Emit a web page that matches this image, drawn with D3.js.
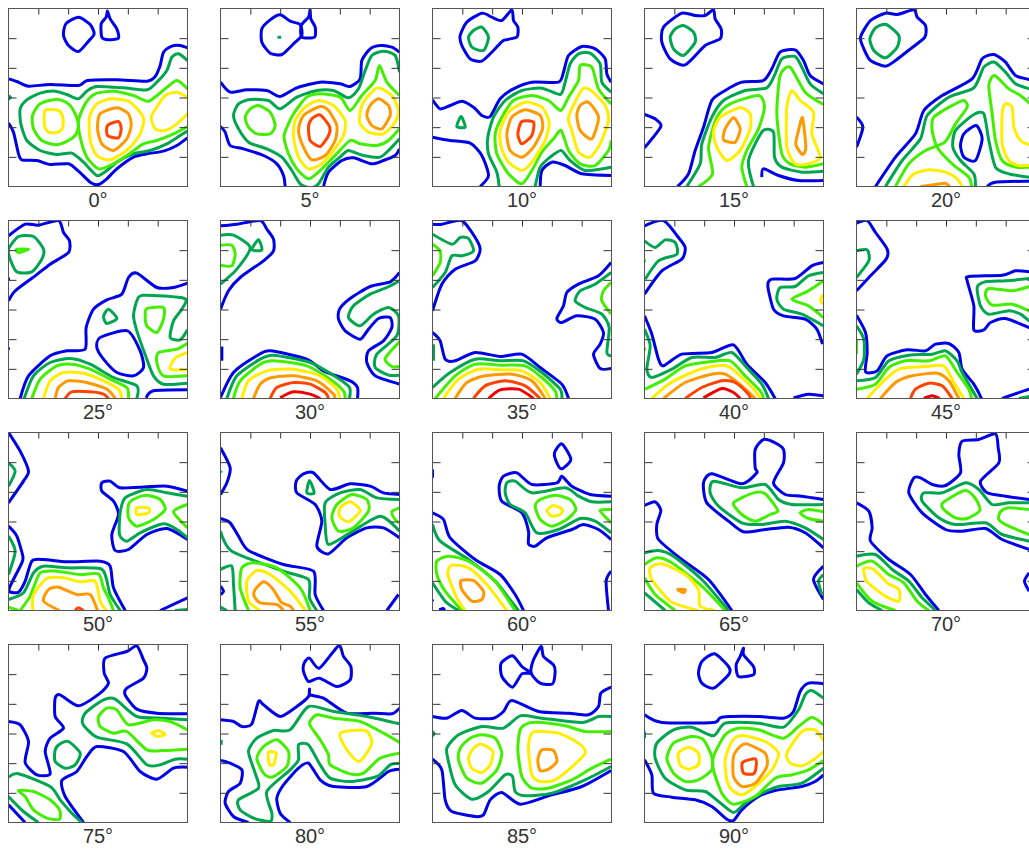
<!DOCTYPE html>
<html><head><meta charset="utf-8">
<script src="https://cdnjs.cloudflare.com/ajax/libs/d3/7.8.5/d3.min.js"></script>
<style>html,body{margin:0;padding:0;background:#fff;overflow:hidden}svg{display:block}</style>
</head><body><div id="chart"></div>
<script>
const angles=[0,5,10,15,20,25,30,35,40,45,50,55,60,65,70,75,80,85,90];
const levelColors=["#0000e6","#00a550","#44ee00","#ffee00","#ff9900","#ff4400","#ee0000"];
const tickSteps=[1,2,3,4,5];
// each contour: [level, closed, [x,y,x,y,...]] in map units (0..537 across, 0..534 down)
const map0=[
[0,1,[210,26,245,48,257,76,240,98,210,129,180,111,165,81,172,46]],
[0,1,[297,8,305,31,325,61,330,89,300,94,280,86,278,46,293,26]],
[0,0,[0,211,25,219,60,233,125,228,210,231,237,216,325,214,415,218,440,204,455,171,465,131,490,113,515,111,537,118]],
[0,0,[0,344,15,371,30,436,40,454,85,456,125,468,180,466,210,488,245,521,270,528,295,511,325,481,375,446,415,436,465,428,505,411,537,388]],
[1,0,[537,156,510,136,490,146,475,186,445,221,415,244,345,238,265,234,237,246,210,271,175,258,140,248,95,254,55,274,35,301,37,346,55,396,95,426,145,438,190,434,225,461,265,501,295,486,325,461,375,436,425,426,475,406,515,381,537,368]],
[1,0,[0,262,6,267,0,272]],
[2,1,[145,272,180,286,200,316,210,351,200,381,170,401,140,409,100,396,75,361,72,321,95,286]],
[2,0,[537,241,505,216,470,241,420,278,375,261,315,248,260,256,230,286,210,336,215,386,235,446,270,481,305,471,355,441,405,406,445,396,495,376,537,354]],
[3,1,[110,306,150,306,163,326,163,356,150,371,120,371,108,351]],
[3,1,[310,271,365,281,405,328,395,376,360,421,305,454,265,441,245,396,243,326,265,286]],
[3,0,[537,266,505,251,470,261,445,296,428,326,440,361,470,366,505,346,537,316]],
[4,1,[325,298,360,316,368,351,355,391,315,426,280,406,267,361,275,316]],
[5,1,[297,351,330,339,338,361,330,388,297,381]]];
const map5=[
[0,1,[179,19,209,38,239,48,244,81,219,106,184,138,149,134,124,101,124,61,149,34]],
[0,1,[269,4,271,31,284,56,282,86,244,86,242,51,264,26]],
[1,0,[171,86,182,86]],
[0,0,[0,221,29,251,79,244,139,246,179,264,229,238,299,221,359,226,389,234,419,211,424,156,449,121,479,111,514,116,537,131]],
[0,0,[0,354,14,371,29,411,69,421,129,441,169,466,189,501,194,534]],
[0,0,[309,534,324,491,364,456,399,448,454,466,489,456,524,441,537,421]],
[1,0,[537,191,524,141,489,128,454,141,434,186,414,241,384,268,339,246,289,246,229,266,179,301,144,276,89,273,54,286,39,321,54,361,84,401,139,421,184,446,214,486,239,526,270,538,294,526,324,476,364,441,384,426,429,441,479,446,509,421,537,391]],
[2,1,[114,291,149,311,164,351,149,376,109,376,84,356,74,326,89,301]],
[2,0,[537,261,499,221,477,171,464,216,424,261,389,306,359,266,299,256,259,266,219,316,191,381,204,436,229,481,264,511,299,486,339,446,389,396,419,406,469,411,504,396,537,361]],
[3,1,[294,276,339,291,374,336,369,381,339,426,304,466,264,481,234,446,219,386,224,336,254,296]],
[3,1,[474,238,514,261,534,306,524,341,489,376,444,371,417,341,424,291,449,256]],
[4,1,[299,294,324,306,349,351,344,396,314,441,274,454,249,416,234,366,249,321]],
[4,1,[474,271,504,291,509,321,484,361,454,351,439,321,449,291]],
[5,1,[299,319,327,354,324,381,299,414,269,396,264,356,274,331]]];
const map10=[
[0,1,[238,4,243,36,256,56,253,86,213,96,183,126,148,158,113,151,88,111,83,81,103,41,148,14,178,26,208,36]],
[1,1,[148,56,168,86,153,126,118,116,108,86,123,66]],
[0,0,[0,274,23,301,53,291,88,278,123,296,148,321,173,324,203,271,243,241,298,221,378,221,393,191,408,141,448,114,488,121,518,151,523,196,536,221]],
[0,0,[0,386,53,396,113,404,148,441,168,501,143,534]],
[0,0,[323,534,328,486,358,461,398,471,448,496,536,501]],
[1,1,[86,324,98,356,73,354]],
[1,0,[536,251,508,221,503,166,473,134,438,136,413,166,398,221,383,258,328,239,268,246,218,276,183,326,166,386,168,436,193,491,200,534]],
[1,0,[308,534,323,476,353,446,386,426,413,456,458,486,536,476]],
[2,0,[536,286,498,241,478,176,443,171,438,216,408,266,385,306,348,276,298,261,243,276,208,326,188,376,193,436,228,496,268,526,298,486,328,431,363,391,386,366,408,426,443,466,488,471,528,426,536,396]],
[3,1,[278,281,328,296,350,341,338,396,298,461,268,486,228,461,206,416,203,366,228,311]],
[3,1,[448,244,473,244,518,291,528,336,503,406,473,446,438,431,418,366,408,326]],
[4,1,[278,304,323,321,330,361,303,416,268,446,233,426,223,376,238,326]],
[4,1,[468,281,498,326,478,391,443,366,433,321,443,291]],
[5,1,[268,339,303,341,298,381,268,406,256,376]]];
const map15=[
[0,1,[207,4,212,31,230,61,227,91,182,111,122,169,77,151,52,101,57,56,112,14,152,21,182,21]],
[1,1,[117,51,147,71,152,101,117,141,87,121,77,86,92,61]],
[0,0,[0,318,32,331,49,354,0,418]],
[0,0,[99,534,132,496,152,426,177,356,202,276,242,246,292,221,357,216,382,181,407,131,452,124,477,156,497,201,537,226]],
[1,0,[127,534,167,466,172,406,202,326,237,276,302,246,367,238,392,196,412,151,452,144,472,176,497,226,537,256]],
[2,0,[162,534,204,496,192,416,217,326,257,286,342,261,360,296,342,361,307,426,292,476,307,534]],
[1,0,[327,534,312,456,354,368,387,371,390,446,412,476,472,491,537,488]],
[2,0,[537,288,482,251,437,176,407,201,397,316,412,436,437,466,482,476,537,466]],
[0,0,[352,506,357,481,402,501,462,516,537,516]],
[3,1,[287,298,317,316,317,361,287,426,247,456,217,416,207,371,227,326]],
[3,1,[442,246,467,276,507,311,502,376,527,446,492,466,452,466,427,416,427,296]],
[4,1,[267,328,287,361,272,401,237,394,242,361]],
[4,1,[474,328,484,416,474,438,454,408,462,366]]];
const map20=[
[0,1,[172,4,182,26,207,51,205,86,162,121,117,156,87,173,42,156,22,121,12,86,42,36,87,14,122,18]],
[1,1,[89,48,127,81,122,116,87,148,52,126,40,91,57,58]],
[0,0,[0,326,19,356,0,416]],
[0,0,[57,534,117,446,177,376,202,306,257,261,347,211,377,151,412,138,447,161,477,201,518,213,537,218]],
[1,0,[87,534,137,456,192,391,212,321,277,266,352,238,382,176,414,161,447,191,477,226,518,241,537,246]],
[2,0,[117,534,157,466,207,426,265,401,297,346,332,296,322,276,287,291,232,326,227,366,242,416,287,466,337,506,345,534]],
[1,0,[357,534,352,496,312,456,289,416,297,366,352,318,382,316,397,396,417,476,457,496,518,506,537,506]],
[0,1,[359,351,377,391,357,456,322,446,312,411,322,376]],
[0,0,[392,534,417,521,518,518,537,518]],
[2,0,[537,300,492,261,457,241,414,201,397,231,407,316,417,396,437,456,477,476,518,476,537,476]],
[3,0,[537,416,492,396,472,356,467,296,447,286,437,316,437,406,457,456,487,471,518,471,537,471]],
[3,0,[142,534,172,496,217,484,267,491,302,511,317,534]],
[4,0,[192,534,237,528,267,524,279,534]]];
const map25=[
[0,0,[0,46,50,11,90,14,150,0,165,36,183,61,180,96,125,131,80,166,20,211,0,241]],
[1,1,[0,86,30,48,75,48,105,86,100,116,70,154,25,154,5,116]],
[2,1,[25,86,60,86,30,96]],
[0,0,[0,171,0,181]],
[0,0,[0,381,0,388]],
[0,0,[35,534,60,466,125,406,175,391,230,386,233,321,255,266,295,238,340,221,360,171,385,158,445,201,495,201,537,188]],
[0,1,[357,331,395,391,405,441,375,466,325,456,285,416,265,381,275,351]],
[1,1,[300,266,325,294,295,309,285,288]],
[0,0,[413,532,435,511,537,508]],
[1,0,[537,488,465,491,435,466,415,416,385,331,375,286,385,241,405,224,528,234,520,266,495,301,485,351,515,358,537,328]],
[2,1,[415,264,465,261,465,296,445,336,415,316,410,286]],
[2,0,[537,368,505,386,450,396,445,426,465,466,537,466]],
[3,0,[537,396,500,413,485,446,537,448]],
[1,0,[47,534,75,466,125,426,185,414,245,431,315,471,385,496,385,534]],
[2,0,[70,534,95,476,145,436,190,431,245,446,305,476,355,501,360,534]],
[3,0,[105,534,125,481,165,456,225,458,285,481,330,506,340,534]],
[4,0,[140,534,150,501,180,481,235,486,295,506,320,534]],
[5,0,[170,534,190,514,245,514,285,521,300,534]]];
const map30=[
[0,0,[0,16,49,11,119,0,139,26,159,56,159,91,129,121,59,171,24,211,0,266]],
[1,0,[0,44,39,44,89,81,49,146,0,191]],
[1,1,[114,58,124,88,94,88]],
[2,0,[0,74,34,74,44,101,34,136,0,134]],
[0,0,[4,378,4,421]],
[0,0,[537,156,509,184,449,198,389,234,357,266,354,296,374,331,419,356,444,326,474,294,509,291,514,321,489,361,444,391,439,426,464,466,537,491]],
[1,0,[537,181,499,201,449,221,399,256,384,291,419,316,459,281,504,261,534,286,529,346,469,401,464,441,504,464,537,464]],
[2,0,[537,364,494,414,514,438,537,438]],
[0,0,[0,531,39,456,109,406,149,391,259,416,309,451,389,481,411,501,411,534]],
[1,0,[19,534,49,466,119,416,159,404,269,426,349,471,387,501,387,534]],
[2,0,[39,534,59,481,119,431,159,421,259,436,329,476,369,511,374,534]],
[3,0,[64,534,84,481,139,451,219,446,299,466,349,506,357,534]],
[4,0,[99,534,119,491,154,471,219,466,289,481,339,521,342,534]],
[5,0,[149,534,169,501,219,486,269,491,314,516,324,534]],
[6,0,[179,532,219,514,269,521,299,534]]];
const map35=[
[0,0,[0,11,28,11,88,0,128,51,143,86,128,121,68,146,28,191,0,271]],
[1,0,[0,41,58,71,83,51,108,54,123,91,88,106,58,106,38,156,0,201]],
[2,0,[0,71,23,91,23,126,0,166]],
[0,0,[0,336,23,361,38,416,68,421,128,396,203,408,268,401,323,441,388,491,408,534]],
[1,0,[3,371,3,421]],
[1,0,[0,501,53,456,128,416,203,421,273,421,328,456,383,506,388,534]],
[2,0,[8,534,68,466,128,431,208,434,278,436,328,471,368,511,373,534]],
[3,0,[33,534,78,476,138,446,208,448,268,451,323,486,353,534]],
[4,0,[68,534,103,486,158,466,238,461,298,481,338,534]],
[5,0,[123,534,158,496,218,481,278,496,323,534]],
[6,0,[168,534,203,508,258,506,303,534]],
[0,0,[536,126,498,166,438,191,403,216,393,256,373,294,388,306,433,286,488,296,513,336,503,371,483,401,503,444,536,444]],
[1,0,[536,156,488,191,443,211,428,241,458,261,508,281,530,321,523,396,536,406]],
[2,0,[536,186,513,211,508,241,536,281]]];
const map40=[
[0,0,[0,16,57,0,102,51,122,81,112,116,52,151,0,221]],
[1,0,[0,61,32,81,62,58,92,66,97,101,42,121,2,176]],
[2,0,[0,116,0,126]],
[2,0,[0,381,0,391]],
[0,0,[0,286,22,341,42,416,57,436,112,401,202,396,267,373,307,431,362,486,392,534]],
[1,0,[0,326,17,376,7,446,22,471,82,446,142,411,212,411,262,396,307,441,352,491,372,534]],
[2,0,[2,506,62,476,122,436,192,424,257,421,302,466,347,511,357,534]],
[3,0,[22,534,72,491,142,456,202,438,252,438,292,471,332,511,347,534]],
[4,0,[57,534,122,486,202,461,242,461,292,496,332,534]],
[5,0,[122,534,172,501,232,481,272,486,312,521,317,534]],
[6,0,[177,532,232,504,267,516,287,534]],
[0,0,[537,126,502,136,452,174,382,176,370,196,387,266,417,286,482,296,517,326,534,371]],
[0,0,[447,532,492,521,537,526]],
[1,0,[537,156,492,166,452,198,407,201,397,236,417,266,472,281,537,316]],
[2,0,[537,181,492,211,442,236,492,256,537,291]],
[3,0,[535,221,528,238,535,251]]];
const map45=[
[0,0,[0,8,32,0,57,36,92,86,89,116,42,166,0,211]],
[1,0,[0,91,32,88,37,121,0,171]],
[0,0,[0,284,27,336,32,396,27,454,62,451,92,406,152,388,207,391,237,371,277,369,307,396,317,446,352,491,375,534]],
[1,0,[0,316,22,356,22,416,0,461]],
[2,0,[0,356,0,401]],
[1,0,[0,481,57,471,97,421,157,404,227,401,267,391,302,421,317,456,362,534]],
[2,0,[0,506,57,491,97,441,147,421,217,421,267,406,302,456,337,506,345,534]],
[3,0,[32,534,77,486,127,446,207,438,262,436,292,486,322,534]],
[4,0,[72,534,117,486,167,466,242,458,277,481,307,534]],
[5,0,[162,534,177,506,217,488,257,496,287,534]],
[6,0,[202,534,227,526,249,534]],
[0,0,[518,154,477,151,437,164,337,168,332,181,352,256,352,328,382,328,402,306,447,294,518,321,537,330]],
[1,0,[518,174,447,181,387,184,362,201,372,256,397,281,457,271,492,281,518,301,537,312]],
[2,0,[518,198,467,211,397,204,387,226,407,254,467,251,518,271,537,280]],
[0,0,[437,534,518,506,537,504]],
[1,0,[487,534,518,528,537,528]]];
const map50=[
[0,0,[0,0,35,56,60,116,45,146,0,211]],
[1,0,[0,91,20,116,0,161]],
[0,0,[0,281,25,311,43,371,40,391,5,461,3,478,30,479,50,446,70,386,105,381,175,388,275,386,305,401,315,466,350,534]],
[1,0,[0,311,20,356,0,426]],
[1,0,[0,501,45,481,75,421,105,401,175,406,275,408,293,436,305,486,335,534]],
[2,0,[0,524,30,534]],
[2,0,[35,534,65,491,95,421,145,416,215,426,270,424,285,466,300,496,315,534]],
[3,0,[73,534,75,486,115,438,165,436,215,448,260,446,275,506,293,534]],
[4,0,[153,534,105,506,120,471,150,464,205,486,245,486,267,534]],
[5,0,[200,534,210,526,225,534]],
[0,0,[537,176,475,161,395,164,335,166,305,146,280,151,280,176,315,206,330,246,310,306,320,354,360,351,415,306,475,288,537,321]],
[0,0,[455,534,537,496]],
[1,0,[500,534,537,531]],
[1,0,[537,191,475,181,415,171,350,196,335,241,333,306,355,326,395,301,465,274,505,291,537,316]],
[2,1,[415,188,455,201,470,231,435,261,385,281,360,256,360,216,380,198]],
[3,1,[385,226,420,226,420,241,385,246]],
[2,0,[537,216,495,238,537,286]]];
const map55=[
[0,0,[0,46,29,106,19,151,0,186]],
[1,0,[0,116,3,121]],
[0,0,[0,258,29,271,54,311,84,354,189,396,279,416,284,486,309,534]],
[1,0,[0,296,34,356,189,416,264,441,267,496,289,534]],
[1,0,[0,411,34,401,39,456,44,534]],
[2,0,[84,534,59,466,64,406,99,391,169,406,239,466,269,534]],
[3,0,[119,534,84,506,79,446,109,414,149,426,209,476,254,534]],
[4,0,[219,534,209,521,184,511,174,496,154,466,129,448,104,471,101,491,119,511,169,516,189,534]],
[0,0,[0,461,9,476,0,486]],
[1,0,[0,524,19,534]],
[0,0,[537,186,489,181,449,161,389,154,329,171,279,121,249,124,227,146,229,181,284,216,304,266,289,341,324,364,379,316,439,286,489,286,537,316]],
[1,1,[267,144,281,181,259,181]],
[1,0,[537,201,469,196,419,171,359,181,314,211,314,276,324,336,389,301,479,251,537,296]],
[2,1,[394,186,439,201,444,236,399,286,354,296,334,256,349,216]],
[3,1,[389,208,419,234,384,268,357,251,359,226]],
[2,0,[537,226,514,238,524,261,537,271]],
[0,0,[499,534,534,486]]];
const map60=[
[0,0,[0,111,0,136]],
[0,1,[388,34,415,81,388,109,373,91,366,61]],
[0,0,[536,191,473,186,418,161,388,131,373,151,298,156,253,121,213,131,200,161,208,206,268,241,288,296,288,334,308,341,343,316,418,291,453,276,498,291,536,321]],
[1,0,[536,208,478,208,438,191,398,166,298,181,248,146,223,151,218,181,233,216,278,241,313,301,378,291,443,258,488,266,536,301]],
[2,1,[368,188,413,201,430,231,403,261,358,281,323,261,308,221,323,201]],
[3,1,[363,219,390,231,383,246,358,251,343,234]],
[2,0,[536,231,503,234,536,271]],
[0,0,[0,241,33,261,53,316,128,381,203,426,248,486,273,534]],
[1,0,[0,276,23,326,108,381,188,446,228,496,258,534]],
[2,0,[248,534,183,441,108,386,48,371,13,386,13,426,38,476,88,534]],
[1,0,[0,451,38,506,78,534]],
[3,0,[223,534,163,456,108,406,58,398,46,426,73,496,98,534]],
[4,1,[86,444,123,444,153,476,148,501,118,506,88,471]],
[0,0,[20,532,33,528,36,534]],
[0,0,[0,501,0,506]],
[0,0,[536,416,521,446,528,534]]];
const map65=[
[0,0,[0,219,32,208,49,234,37,276,42,321,112,381,192,441,262,534]],
[1,0,[0,361,42,354,87,371,172,441,252,534]],
[2,0,[0,396,37,376,82,391,172,461,242,534]],
[3,0,[212,534,167,521,162,471,122,426,52,394,17,406,22,441,77,506,132,526,162,534]],
[2,0,[0,436,32,486,92,534]],
[1,0,[0,481,62,534]],
[4,1,[99,471,122,471,117,481]],
[0,0,[537,201,472,191,422,186,387,151,417,91,417,51,392,31,357,21,332,51,332,106,337,121,292,154,202,124,177,151,187,211,252,266,297,298,362,291,432,284,482,301,537,346]],
[1,0,[537,216,442,216,402,201,362,156,292,166,207,146,197,181,222,221,292,271,352,276,422,266,482,286,537,321]],
[2,1,[327,181,362,184,400,234,377,246,332,266,292,246,267,211]],
[2,0,[537,238,492,231,467,241,492,258,537,266]],
[0,0,[537,401,507,441,537,501]],
[1,0,[537,426,522,446,532,486]]];
const map70=[
[0,0,[0,211,37,236,47,286,42,326,97,381,162,426,207,486,247,534]],
[1,0,[0,371,57,366,107,411,157,446,197,496,237,534]],
[2,0,[0,401,47,386,97,426,142,451,182,506,217,534]],
[3,1,[22,408,52,411,92,451,127,471,127,506,87,491,32,448]],
[2,0,[0,451,47,506,117,534]],
[1,0,[0,471,37,511,77,534]],
[0,0,[518,201,447,191,392,181,372,146,427,91,425,46,417,4,367,21,317,26,307,66,312,121,267,159,227,156,192,136,172,136,157,181,197,241,267,291,317,296,387,288,437,321,518,351,537,356]],
[1,0,[518,211,457,211,407,216,367,171,327,151,257,181,202,181,197,206,247,256,297,276,387,271,437,306,518,326,537,332]],
[2,1,[325,174,357,198,370,234,332,258,297,256,262,231,259,211]],
[2,0,[518,231,457,226,432,238,427,261,457,281,518,306,537,312]],
[0,0,[518,421,504,446,518,476]]];
const map75=[
[0,0,[0,231,35,241,60,291,50,354,85,391,125,388,110,321,125,281,165,251,140,216,140,161,155,151,210,184,275,146,300,116,287,86,290,41,355,21,385,4,405,46,415,71,405,101,355,131,350,151,385,194,445,206,537,208]],
[0,0,[537,368,495,371,445,404,395,381,345,321,265,306,235,336,205,381,160,408,170,456,225,534]],
[1,1,[180,291,215,326,200,361,170,371,140,351,140,316,155,298]],
[1,0,[537,226,465,221,385,216,320,164,285,166,230,206,223,238,265,278,355,298,415,361,455,361,500,344,537,344]],
[2,0,[537,256,485,231,435,226,360,241,325,196,295,191,270,216,275,246,315,266,355,261,415,316,465,318,537,314]],
[3,1,[430,266,450,259,470,269,450,276]],
[1,0,[0,398,30,388,125,426,155,466,190,506,220,534]],
[2,1,[30,438,75,441,125,466,153,496,153,524,115,521,75,496,50,456]],
[1,0,[0,456,45,501,90,534]],
[0,0,[0,481,50,534]]];
const map80=[
[0,0,[0,226,39,231,64,246,94,238,114,171,129,181,179,216,229,186,264,156,267,134,269,151,309,161,379,206,459,206,514,208,537,191]],
[0,1,[267,41,297,71,354,4,369,36,391,66,389,106,349,126,297,101,264,111,249,81,251,56]],
[1,0,[2,286,2,301]],
[0,0,[0,348,24,354,64,376,59,416,24,441,14,476,39,516,84,534]],
[0,0,[537,374,504,381,439,426,339,426,299,406,264,356,234,371,189,421,169,461,179,506,209,534]],
[1,0,[537,238,439,216,339,201,264,186,209,256,159,258,109,281,84,321,104,386,114,431,54,466,59,496,99,521,149,531,154,506,139,441,209,376,234,346,234,301,264,301,299,361,329,401,389,411,469,396,509,361,537,356]],
[2,1,[169,286,204,321,199,366,154,398,129,386,109,341,129,306]],
[3,1,[144,323,167,326,159,361,146,358]],
[2,0,[537,294,489,266,419,231,339,221,289,211,267,238,299,286,324,331,329,361,389,388,429,386,479,341,537,326]],
[3,1,[359,266,434,258,454,296,417,351,379,316]]];
const map85=[
[0,0,[0,216,43,221,88,198,128,221,183,221,213,201,238,168,318,201,408,206,468,211,498,186,505,146,536,128]],
[0,1,[240,34,268,66,296,86,268,88,240,128,208,96,206,56]],
[0,1,[326,6,333,36,363,61,368,81,360,118,323,116,296,86,303,46]],
[1,0,[0,261,5,268,0,274]],
[0,0,[0,344,28,376,38,466,58,501,128,516,153,511,173,466,208,444,263,479,348,454,448,426,536,378]],
[1,0,[536,216,498,216,448,234,328,221,263,214,213,251,148,246,78,271,43,311,48,351,68,421,118,464,168,441,218,391,240,396,248,441,278,454,358,446,458,406,536,366]],
[2,1,[148,271,188,281,208,326,193,376,148,416,103,401,78,346,83,311,113,281]],
[3,1,[148,299,181,321,173,361,148,384,118,371,108,341,123,311]],
[2,0,[536,261,458,261,398,244,328,234,288,236,263,256,256,316,268,396,298,431,348,431,418,406,478,371,536,344]],
[3,1,[308,261,378,266,438,296,458,326,408,376,363,408,323,411,298,391,288,316,293,276]],
[4,1,[328,316,363,318,373,351,348,374,323,378,316,346]]];
const map90=[
[0,1,[210,28,252,66,254,88,207,131,172,116,162,86,172,51]],
[0,1,[297,11,297,31,327,66,327,91,282,96,275,61,287,36]],
[0,0,[0,211,52,234,207,234,232,218,342,216,417,221,447,201,467,141,492,116,537,118]],
[1,0,[0,261,0,281]],
[0,0,[0,346,22,391,27,446,82,458,152,466,202,486,247,524,267,528,292,496,342,456,392,438,472,426,512,411,537,391]],
[1,0,[537,161,502,138,482,151,462,196,417,248,342,236,242,236,207,274,142,248,87,256,37,296,32,341,62,401,122,436,182,441,222,471,267,504,302,476,352,446,402,426,472,416,537,371]],
[2,1,[142,276,177,286,202,336,202,376,162,406,122,411,87,386,67,341,87,296]],
[3,1,[132,308,162,326,162,361,132,374,107,361,102,326]],
[2,0,[537,241,502,218,462,246,417,281,342,256,282,251,242,271,207,336,207,376,232,446,267,479,332,456,392,401,442,391,492,376,537,348]],
[3,1,[292,273,362,291,402,326,382,376,332,426,292,451,262,436,247,406,242,346,262,291]],
[3,0,[537,288,512,256,472,261,427,326,437,356,472,364,507,346,537,321]],
[4,1,[307,298,362,326,367,366,332,416,292,426,267,396,267,336,287,306]],
[5,1,[332,343,335,366,327,388,297,386,294,354]]];
const maps=[map0,map5,map10,map15,map20,map25,map30,map35,map40,map45,map50,map55,map60,map65,map70,map75,map80,map85,map90];

const W=1029,H=849,pw=179,ph=178;
const colX=[8.5,220.5,432.5,644.5,856.5],rowY=[8.5,220.5,432.5,644.5];
const svg=d3.select("#chart").append("svg").attr("width",W).attr("height",H).style("background","#fff");
const x=d3.scaleLinear().domain([0,537]).range([0,pw]);
const y=d3.scaleLinear().domain([0,534]).range([0,ph]);
const xT=tickSteps.map(d=>d*537/6),yT=tickSteps.map(d=>d*534/6);
const pairs=a=>d3.range(0,a.length,2).map(i=>[a[i],a[i+1]]);
const lineOpen=d3.line().x(d=>x(d[0])).y(d=>y(d[1])).curve(d3.curveCardinal.tension(0.3));
const lineClosed=d3.line().x(d=>x(d[0])).y(d=>y(d[1])).curve(d3.curveCardinalClosed.tension(0.3));
svg.append("defs").append("clipPath").attr("id","pc").append("rect").attr("width",pw).attr("height",ph);

angles.forEach((ang,i)=>{
  const g=svg.append("g").attr("transform",`translate(${colX[i%5]},${rowY[Math.floor(i/5)]})`);
  const plot=g.append("g").attr("clip-path","url(#pc)");
  plot.selectAll("path").data(maps[i]).join("path")
    .attr("d",c=>(c[1]?lineClosed:lineOpen)(pairs(c[2])))
    .attr("fill","none").attr("stroke",c=>levelColors[c[0]])
    .attr("stroke-width",3).attr("stroke-linejoin","round").attr("stroke-linecap","butt");
  const ax=[
    [d3.axisBottom(x).tickValues(xT).tickSize(6),"0,0"],
    [d3.axisRight(y).tickValues(yT).tickSize(8),"0,0"],
    [d3.axisLeft(y).tickValues(yT).tickSize(8),pw+",0"]
  ];
  ax.forEach(([a,t])=>{
    const s=g.append("g").attr("transform",`translate(${t})`).call(a.tickFormat(""));
    s.select(".domain").remove();
    s.selectAll("line").attr("stroke","#333").attr("stroke-width",1);
  });
  g.append("rect").attr("width",pw).attr("height",ph).attr("fill","none").attr("stroke","#555").attr("stroke-width",1);
  g.append("text").attr("x",pw/2).attr("y",198.5).attr("text-anchor","middle")
    .attr("font-family","Liberation Sans, Arial, sans-serif").attr("font-size",20).attr("fill","#333")
    .text(ang+"°");
});
</script></body></html>
